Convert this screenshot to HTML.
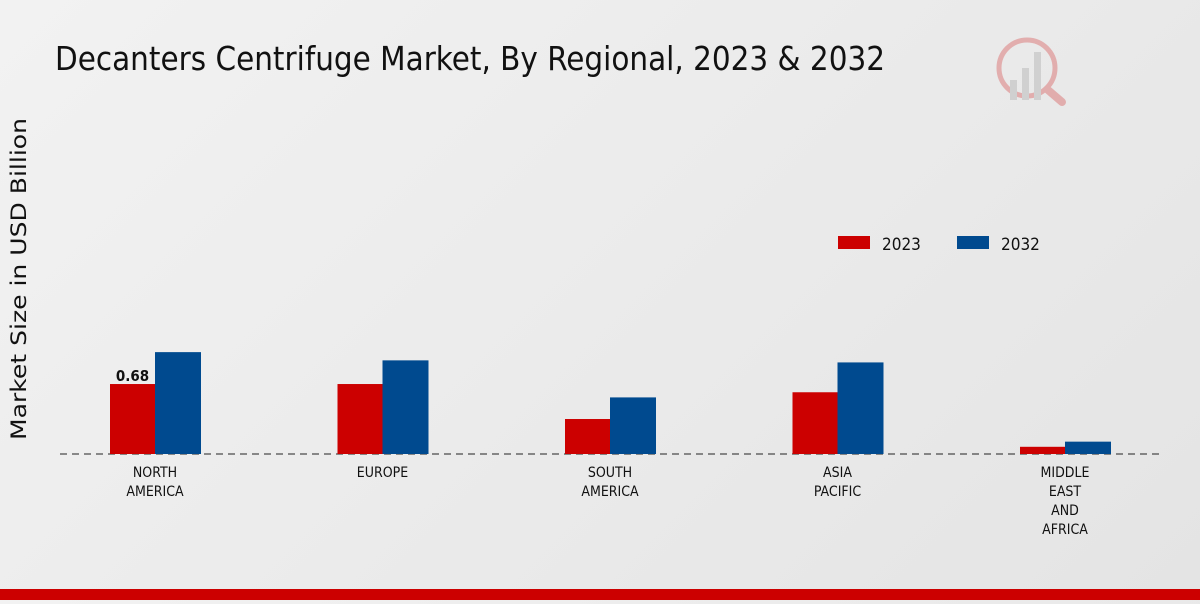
<!DOCTYPE html>
<html><head><meta charset="utf-8"><style>
body{margin:0;width:1200px;height:600px;overflow:hidden;background:linear-gradient(135deg,#f2f2f2,#e4e4e4);font-family:"DejaVu Sans Condensed","Liberation Sans",sans-serif;}
</style></head><body>
<svg width="1200" height="600" id="c">
<text x="55" y="70" font-size="33" fill="#111" font-family="DejaVu Sans Condensed, Liberation Sans, sans-serif" textLength="830" lengthAdjust="spacingAndGlyphs">Decanters Centrifuge Market, By Regional, 2023 &amp; 2032</text>
<text transform="translate(26,279) rotate(-90)" text-anchor="middle" font-size="21" fill="#111" font-family="DejaVu Sans, Liberation Sans, sans-serif" textLength="322" lengthAdjust="spacingAndGlyphs">Market Size in USD Billion</text>
<line x1="60" y1="454" x2="1160" y2="454" stroke="#222" stroke-dasharray="7,5"/>
<g>
<rect x="838" y="236" width="32" height="13" fill="#cc0000"/>
<text x="882" y="250" font-size="17" fill="#111">2023</text>
<rect x="957" y="236" width="32" height="13" fill="#004a8f"/>
<text x="1001" y="250" font-size="17" fill="#111">2032</text>
</g>
<g id="bars"></g>
<g opacity="0.25">
<circle cx="1027" cy="68" r="28" fill="none" stroke="#cc0000" stroke-width="5"/>
<rect x="1010" y="80" width="7" height="20" fill="#888"/><rect x="1022" y="68" width="7" height="32" fill="#888"/><rect x="1034" y="52" width="7" height="48" fill="#888"/>
<line x1="1048" y1="90" x2="1062" y2="102" stroke="#cc0000" stroke-width="8" stroke-linecap="round"/>
</g>
<rect x="0" y="589" width="1200" height="11" fill="#cc0000"/>
</svg>
<script>
const categories=[["NORTH","AMERICA"],["EUROPE"],["SOUTH","AMERICA"],["ASIA","PACIFIC"],["MIDDLE","EAST","AND","AFRICA"]];
const catNames=["north-america","europe","south-america","asia-pacific","middle-east-and-africa"];
const values2023=[0.68,0.68,0.34,0.60,0.07];
const values2032=[0.99,0.91,0.55,0.89,0.12];
const g=document.getElementById('bars');
const NS='http://www.w3.org/2000/svg';
function xc(i){return 155+i*227.5;}
function ys(v){return 454-v*102.9;}
function el(t,a){const e=document.createElementNS(NS,t);for(const k in a)e.setAttribute(k,a[k]);g.appendChild(e);return e;}
categories.forEach((c,i)=>{
  const cx=xc(i);
  const b1=el('rect',{x:cx-45,y:ys(values2023[i]),width:45,height:454-ys(values2023[i]),fill:'#cc0000'});
  
  
  const b2=el('rect',{x:cx,y:ys(values2032[i]),width:46,height:454-ys(values2032[i]),fill:'#004a8f'});
  
  
  c.forEach((l,j)=>{
    const t=el('text',{x:cx,y:477+j*19,'text-anchor':'middle','font-size':14,fill:'#111'});
    t.textContent=l;
    
    
  });
});
const v=el('text',{x:xc(0)-22.5,y:ys(values2023[0])-3,'text-anchor':'middle','font-size':15,'font-weight':'bold',fill:'#111'});
v.textContent=values2023[0].toFixed(2);


</script>
</body></html>
